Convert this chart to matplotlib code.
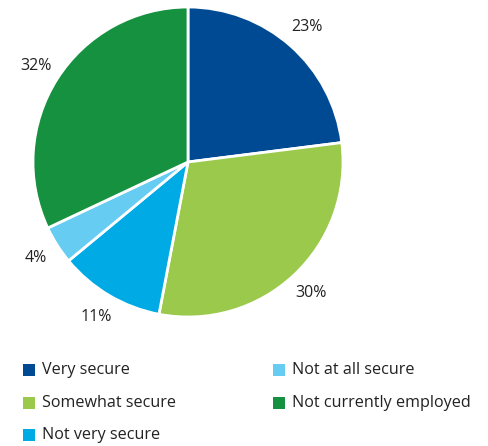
import matplotlib
matplotlib.use("Agg")
import matplotlib.pyplot as plt
from matplotlib.patches import Rectangle

plt.rcParams['font.family'] = ['Open Sans', 'DejaVu Sans']

categories = ["Very secure", "Somewhat secure", "Not very secure",
              "Not at all secure", "Not currently employed"]
shares = [23, 30, 11, 4, 32]
colors = ["#004a93", "#9bc94b", "#00aae5", "#66ccf1", "#15913f"]

W, H = 488, 446
fig = plt.figure(figsize=(W / 100, H / 100), dpi=100)

# pie centre and radius in pixels
cx, cy, r = 188, 162, 155
ax = fig.add_axes([(cx - r) / W, (H - cy - r) / H, 2 * r / W, 2 * r / H])
wedges, texts = ax.pie(shares, colors=colors, startangle=90, counterclock=False,
                       labels=[f"{v}%" for v in shares], labeldistance=1.16,
                       wedgeprops=dict(edgecolor="white", linewidth=2),
                       textprops=dict(fontsize=11.5, color="#222222"))
for t in texts:
    t.set_ha("center")
    t.set_va("center")
ax.set_xlim(-1, 1)
ax.set_ylim(-1, 1)
ax.axis("off")

# legend: two columns, filled top-down
col_x = [23, 273]
row_y = [370, 403, 435]
sq = 12
for i, (name, c) in enumerate(zip(categories, colors)):
    col, row = (0, i) if i < 3 else (1, i - 3)
    x, y = col_x[col], row_y[row]
    fig.patches.append(Rectangle((x / W, (H - y - sq / 2) / H), sq / W, sq / H,
                                 facecolor=c, edgecolor="none",
                                 transform=fig.transFigure, figure=fig))
    fig.text((x + 19) / W, (H - y) / H, name, fontsize=11.6, color="#222222",
             va="center", ha="left")

fig.savefig("out.png", dpi=100)
